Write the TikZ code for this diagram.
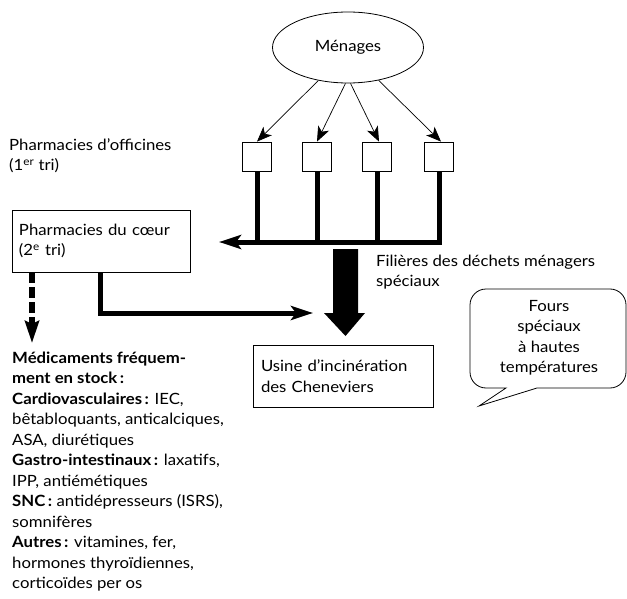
\documentclass[tikz,border=0pt]{standalone}
\usepackage{fontspec}
\setmainfont{Lato}[FakeStretch=1.08]
\usetikzlibrary{arrows.meta,shapes.geometric}
\begin{document}
\begin{tikzpicture}[x=1pt,y=-1pt,
  txt/.style={font=\fontsize{15.5}{20.5}\selectfont, inner sep=0pt, align=left, anchor=base west},
  ctxt/.style={font=\fontsize{15.5}{20.5}\selectfont, inner sep=0pt, align=center},
  bin/.style={draw, line width=0.8pt, minimum width=29pt, minimum height=29pt, inner sep=0pt},
  tbox/.style={draw, line width=0.8pt, font=\fontsize{15.5}{20.5}\selectfont, align=left, inner ysep=0pt},
  thinarrow/.style={line width=0.7pt, -{Stealth[length=15pt,width=12pt,inset=4pt]}},
  heavy/.style={line width=5pt},
  heavyarrow/.style={line width=5pt, -{Stealth[length=22pt,width=14pt,inset=5pt]}},
]
\useasboundingbox (0,0) rectangle (627,599);

% households
\node[draw, ellipse, line width=0.8pt, minimum width=151pt, minimum height=71pt,
      font=\fontsize{15.5}{20.5}\selectfont] (men) at (348,47.5) {Ménages};

% pharmacy bins
\node[bin] (b1) at (257,156.5) {};
\node[bin] (b2) at (317,156.5) {};
\node[bin] (b3) at (377,156.5) {};
\node[bin] (b4) at (439,156.5) {};

\draw[thinarrow] (men.228) -- (b1.north);
\draw[thinarrow] (men.266) -- (b2.north);
\draw[thinarrow] (men.274) -- ([xshift=2pt]b3.north);
\draw[thinarrow] (men.313) -- ([xshift=2pt]b4.north);

\node[txt] (offi) at (9,171) {Pharmacies d’officines\\(1\textsuperscript{er} tri)};

% collecting line
\coordinate (hl) at (219,242);
\draw[heavy] (b1.south) -- (b1.south |- hl);
\draw[heavy] (b2.south) -- (b2.south |- hl);
\draw[heavy] (b3.south) -- (b3.south |- hl);
\draw[heavyarrow] (b4.south) -- (b4.south |- hl) -- (hl);

% pharmacies du coeur
\node[tbox, text width=164pt, minimum height=62pt, inner xsep=7pt] (coeur) at (101,241)
  {Pharmacies du cœur\\(2\textsuperscript{e} tri)};

% big arrow
\fill (333,249) -- (358,249) -- (358,313) -- (365,313) -- (345.5,336) -- (324,313) -- (333,313) -- cycle;

\node[txt] (fil) at (376,286.5) {Filières des déchets ménagers\\spéciaux};

% usine
\node[tbox, text width=164pt, minimum height=62pt, inner xsep=8pt] (usine) at (343,376)
  {Usine d’incinération\\des Cheneviers};

\coordinate (uin) at (313,313);
\draw[heavyarrow] (100,0 |- coeur.south) -- (100,313) -- (uin);

% dashed arrow
\coordinate (medtip) at (32,343);
\draw[line width=6pt, dash pattern=on 11pt off 4pt, -{Stealth[length=22pt,width=14pt,inset=3pt]}]
  (32,0 |- coeur.south) -- (medtip);

\node[txt] (med) at (12,588.5) {\textbf{Médicaments fréquem-}\\
\textbf{ment en stock\,:}\\
\textbf{Cardiovasculaires\,:} IEC,\\
bêtabloquants, anticalciques,\\
ASA, diurétiques\\
\textbf{Gastro-intestinaux\,:} laxatifs,\\
IPP, antiémétiques\\
\textbf{SNC\,:} antidépresseurs (ISRS),\\
somnifères\\
\textbf{Autres\,:} vitamines, fer,\\
hormones thyroïdiennes,\\
corticoïdes per os};

% callout
\draw[line width=0.8pt] (537,388) -- (479,406) -- (506,388) [rounded corners=16pt] -- (470,388) -- (470,289) -- (626,289) -- (626,388) -- (537,388);
\node[ctxt] (fours) at (549,338) {Fours\\spéciaux\\à hautes\\températures};
\end{tikzpicture}
\end{document}
